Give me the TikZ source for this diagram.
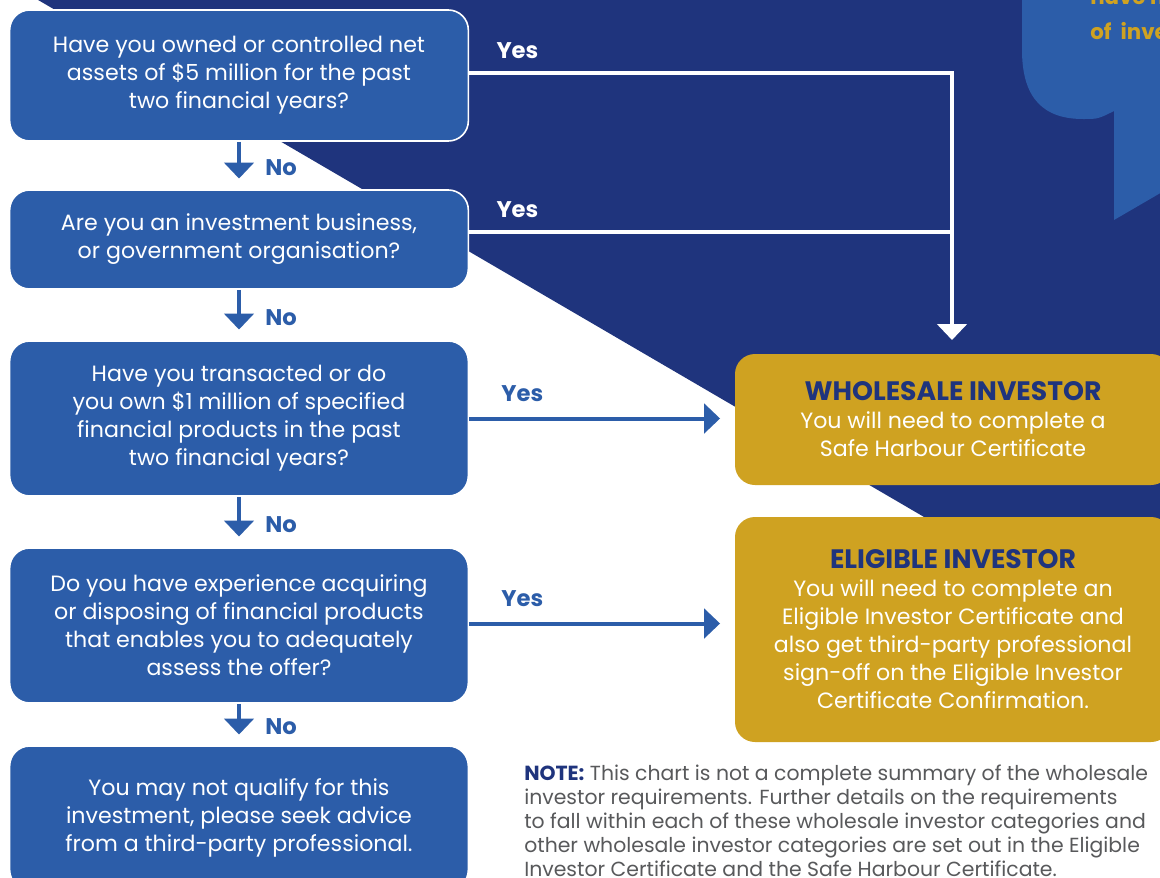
\documentclass[tikz,border=0pt]{standalone}
\usepackage{fontspec}
\setmainfont{Poppins}
\usetikzlibrary{arrows.meta}
\definecolor{navy}{HTML}{1F347D}
\definecolor{boxblue}{HTML}{2C5DA9}
\definecolor{gold}{HTML}{CFA221}
\definecolor{notegray}{HTML}{58595B}

\begin{document}
\begin{tikzpicture}[x=0.75pt, y=-0.75pt, >={Triangle[width=22pt,length=12pt]},
    question/.style={fill=boxblue, draw=white, line width=1.2pt, rounded corners=15pt,
        text=white, align=center, minimum width=344pt, inner sep=0pt,
        font=\fontsize{16.6}{21}\selectfont},
    result/.style={fill=gold, rounded corners=15pt, text=white, align=center,
        minimum width=327pt, inner sep=0pt, font=\fontsize{16.6}{21}\selectfont},
    noarrow/.style={->, boxblue, line width=3pt, shorten >=8pt},
    yesline/.style={white, line width=3pt},
    bluearrow/.style={->, boxblue, line width=3pt, shorten >=11pt},
    answer/.style={font=\fontsize{17}{20}\bfseries\selectfont}]
            % frame
            \useasboundingbox (0,0) rectangle (1160,878);
            \clip (0,0) rectangle (1160,878);
            \fill[white] (0,0) rectangle (1160,878);

            % navy band and bubble
            \fill[navy] (21,-10) -- (1200,678) -- (1200,-10) -- cycle;
            \fill[boxblue] (1022,-20) -- (1022,50) .. controls (1022,100) and (1045,119) .. (1083,119)
                .. controls (1098,119) .. (1114,111) -- (1114,220) -- (1200,170) -- (1200,-20) -- cycle;
            \node[anchor=west, text=gold, align=left, inner sep=0pt,
                font=\fontsize{16}{26}\bfseries\selectfont] (bubble) at (1090,14) {have n\\of\ \ inve};

            % questions
            \node[question, minimum height=98.25pt] (q1) at (239,75.5)
                {Have you owned or controlled net\\assets of \$5 million for the past\\two financial years?};
            \node[question, minimum height=74.25pt] (q2) at (239,239.5)
                {Are you an investment business,\\or government organisation?};
            \node[question, minimum height=116.25pt] (q3) at (239,418.5)
                {Have you transacted or do\\you own \$1 million of specified\\financial products in the past\\two financial years?};
            \node[question, minimum height=116.25pt] (q4) at (239,625.5)
                {Do you have experience acquiring\\or disposing of financial products\\that enables you to adequately\\assess the offer?};
            \node[question, minimum height=108pt] (q5) at (239,818)
                {You may not qualify for this\\investment, please seek advice\\from a third-party professional.};

            % results
            \node[result, minimum height=98.25pt] (whole) at (953,419.5)
                {{\fontsize{20}{21}\selectfont\color{navy}\bfseries WHOLESALE INVESTOR}\\You will need to complete a\\Safe Harbour Certificate};
            \node[result, minimum height=168.75pt] (elig) at (953,629.5)
                {{\fontsize{20}{21}\selectfont\color{navy}\bfseries ELIGIBLE INVESTOR}\\You will need to complete an\\Eligible Investor Certificate and\\also get third-party professional\\sign-off on the Eligible Investor\\Certificate Confirmation.};

            % no arrows
            \draw[noarrow] (q1) -- (q2) node[answer, text=boxblue, pos=0.55, right=15pt] {No};
            \draw[noarrow] (q2) -- (q3) node[answer, text=boxblue, pos=0.55, right=15pt] {No};
            \draw[noarrow] (q3) -- (q4) node[answer, text=boxblue, pos=0.55, right=15pt] {No};
            \draw[noarrow] (q4) -- (q5) node[answer, text=boxblue, pos=0.55, right=15pt] {No};

            % yes arrows
            \coordinate (drop) at (952,340);
            \draw[yesline, ->] ([yshift=2pt]q1.east) -| (drop) node[answer, text=white, pos=0.05, above=6pt] {Yes};
            \draw[yesline] ([yshift=5.5pt]q2.east) -- ([yshift=5.5pt]q2.east -| drop) node[answer, text=white, pos=0.1, above=6pt] {Yes};
            \draw[bluearrow] (q3.east) -- (q3.east -| whole.west) node[answer, text=boxblue, pos=0.2, above=8pt] {Yes};
            \draw[bluearrow] ([yshift=1.5pt]q4.east) -- ([yshift=1.5pt]q4.east -| elig.west) node[answer, text=boxblue, pos=0.2, above=8pt] {Yes};

            % note
            \node[anchor=north west, align=left, inner sep=0pt, text=notegray,
                font=\fontsize{15.3}{18}\selectfont] (note) at (524,765)
                {{\color{navy}\bfseries NOTE:} This chart is not a complete summary of the wholesale\\
                investor requirements. Further details on the requirements\\
                to fall within each of these wholesale investor categories and\\
                other wholesale investor categories are set out in the Eligible\\
                Investor Certificate and the Safe Harbour Certificate.};
        \end{tikzpicture}
\end{document}
